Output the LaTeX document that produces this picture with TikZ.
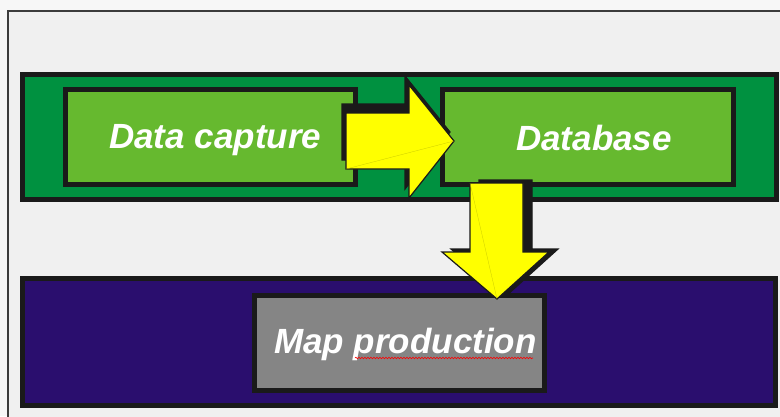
\documentclass[tikz,border=0pt]{standalone}
\usepackage{fontspec}
\setmainfont{Liberation Sans}
\usetikzlibrary{decorations.pathmorphing}
\definecolor{bgout}{HTML}{F7F7F7}
\definecolor{bgin}{HTML}{F0F0F0}
\definecolor{darkgreen}{HTML}{009140}
\definecolor{lightgreen}{HTML}{66B92F}
\definecolor{deepblue}{HTML}{2A0E6E}
\definecolor{boxgray}{HTML}{858585}
\definecolor{ink}{HTML}{1A1A1A}
\definecolor{arrowyellow}{HTML}{FFFF00}
\tikzset{
  band/.style={draw=ink, line width=5pt, rectangle, inner sep=0pt},
  box/.style={draw=ink, line width=5pt, rectangle, inner sep=0pt},
  lbl/.style={text=white, inner sep=0pt, anchor=base west, font=\fontsize{35}{40}\selectfont\bfseries\itshape},
  blockarrow/.style={fill=arrowyellow, draw=ink, line width=1.2pt, line join=miter},
  arrowshadow/.style={fill=ink, draw=ink, line width=1.2pt},
  seam/.style={draw=arrowyellow!80!black, line width=0.3pt},
}
\begin{document}
\begin{tikzpicture}[x=1pt,y=-1pt]
\useasboundingbox (0,0) rectangle (780,416);
\fill[bgout] (0,0) rectangle (780,416);
\draw[draw=ink!85, line width=2pt, fill=bgin] (8,11) rectangle (800,440);
% bands
\node[band, fill=darkgreen, minimum width=754pt, minimum height=125pt] (capband) at (399.25,137) {};
\node[band, fill=deepblue, minimum width=753pt, minimum height=127pt] (mapband) at (398.5,342) {};
% boxes
\node[box, fill=lightgreen, minimum width=290pt, minimum height=95pt] (capture) at (210.5,137) {};
\node[box, fill=lightgreen, minimum width=291pt, minimum height=95pt] (database) at (588,137) {};
\node[box, fill=boxgray, minimum width=290pt, minimum height=95pt] (mapprod) at (399.5,343) {};
% labels
\node[lbl] (tcap) at (109,148) {Data capture};
\node[lbl] (tdb) at (516,150) {Database};
\node[lbl] (tmap) at (274,353) {Map production};
\draw[red, line width=0.6pt, decorate, decoration={snake, amplitude=0.8pt, segment length=3pt}]
  ([xshift=81pt,yshift=-5pt]tmap.base west) -- ([xshift=259pt,yshift=-5pt]tmap.base west);
% right arrow (capture -> database)
\begin{scope}[shift={(-4,-9)}]
\path[arrowshadow] (346,113) -- (409,113) -- (409,85) -- (454,141) -- (409,198) -- (409,169) -- (346,169) -- cycle;
\end{scope}
\path[blockarrow] (346,113) -- (409,113) -- (409,85) -- (454,141) -- (409,198) -- (409,169) -- (346,169) -- cycle;
\draw[seam] (346,169) -- (454,141);
% down arrow (database -> map production)
\begin{scope}[shift={(9,-3)}]
\path[arrowshadow] (470,183) -- (523,183) -- (523,252) -- (549,252) -- (497,299) -- (442,252) -- (470,252) -- cycle;
\end{scope}
\path[blockarrow] (470,183) -- (523,183) -- (523,252) -- (549,252) -- (497,299) -- (442,252) -- (470,252) -- cycle;
\draw[seam] (470,183) -- (497,299);
\end{tikzpicture}
\end{document}
